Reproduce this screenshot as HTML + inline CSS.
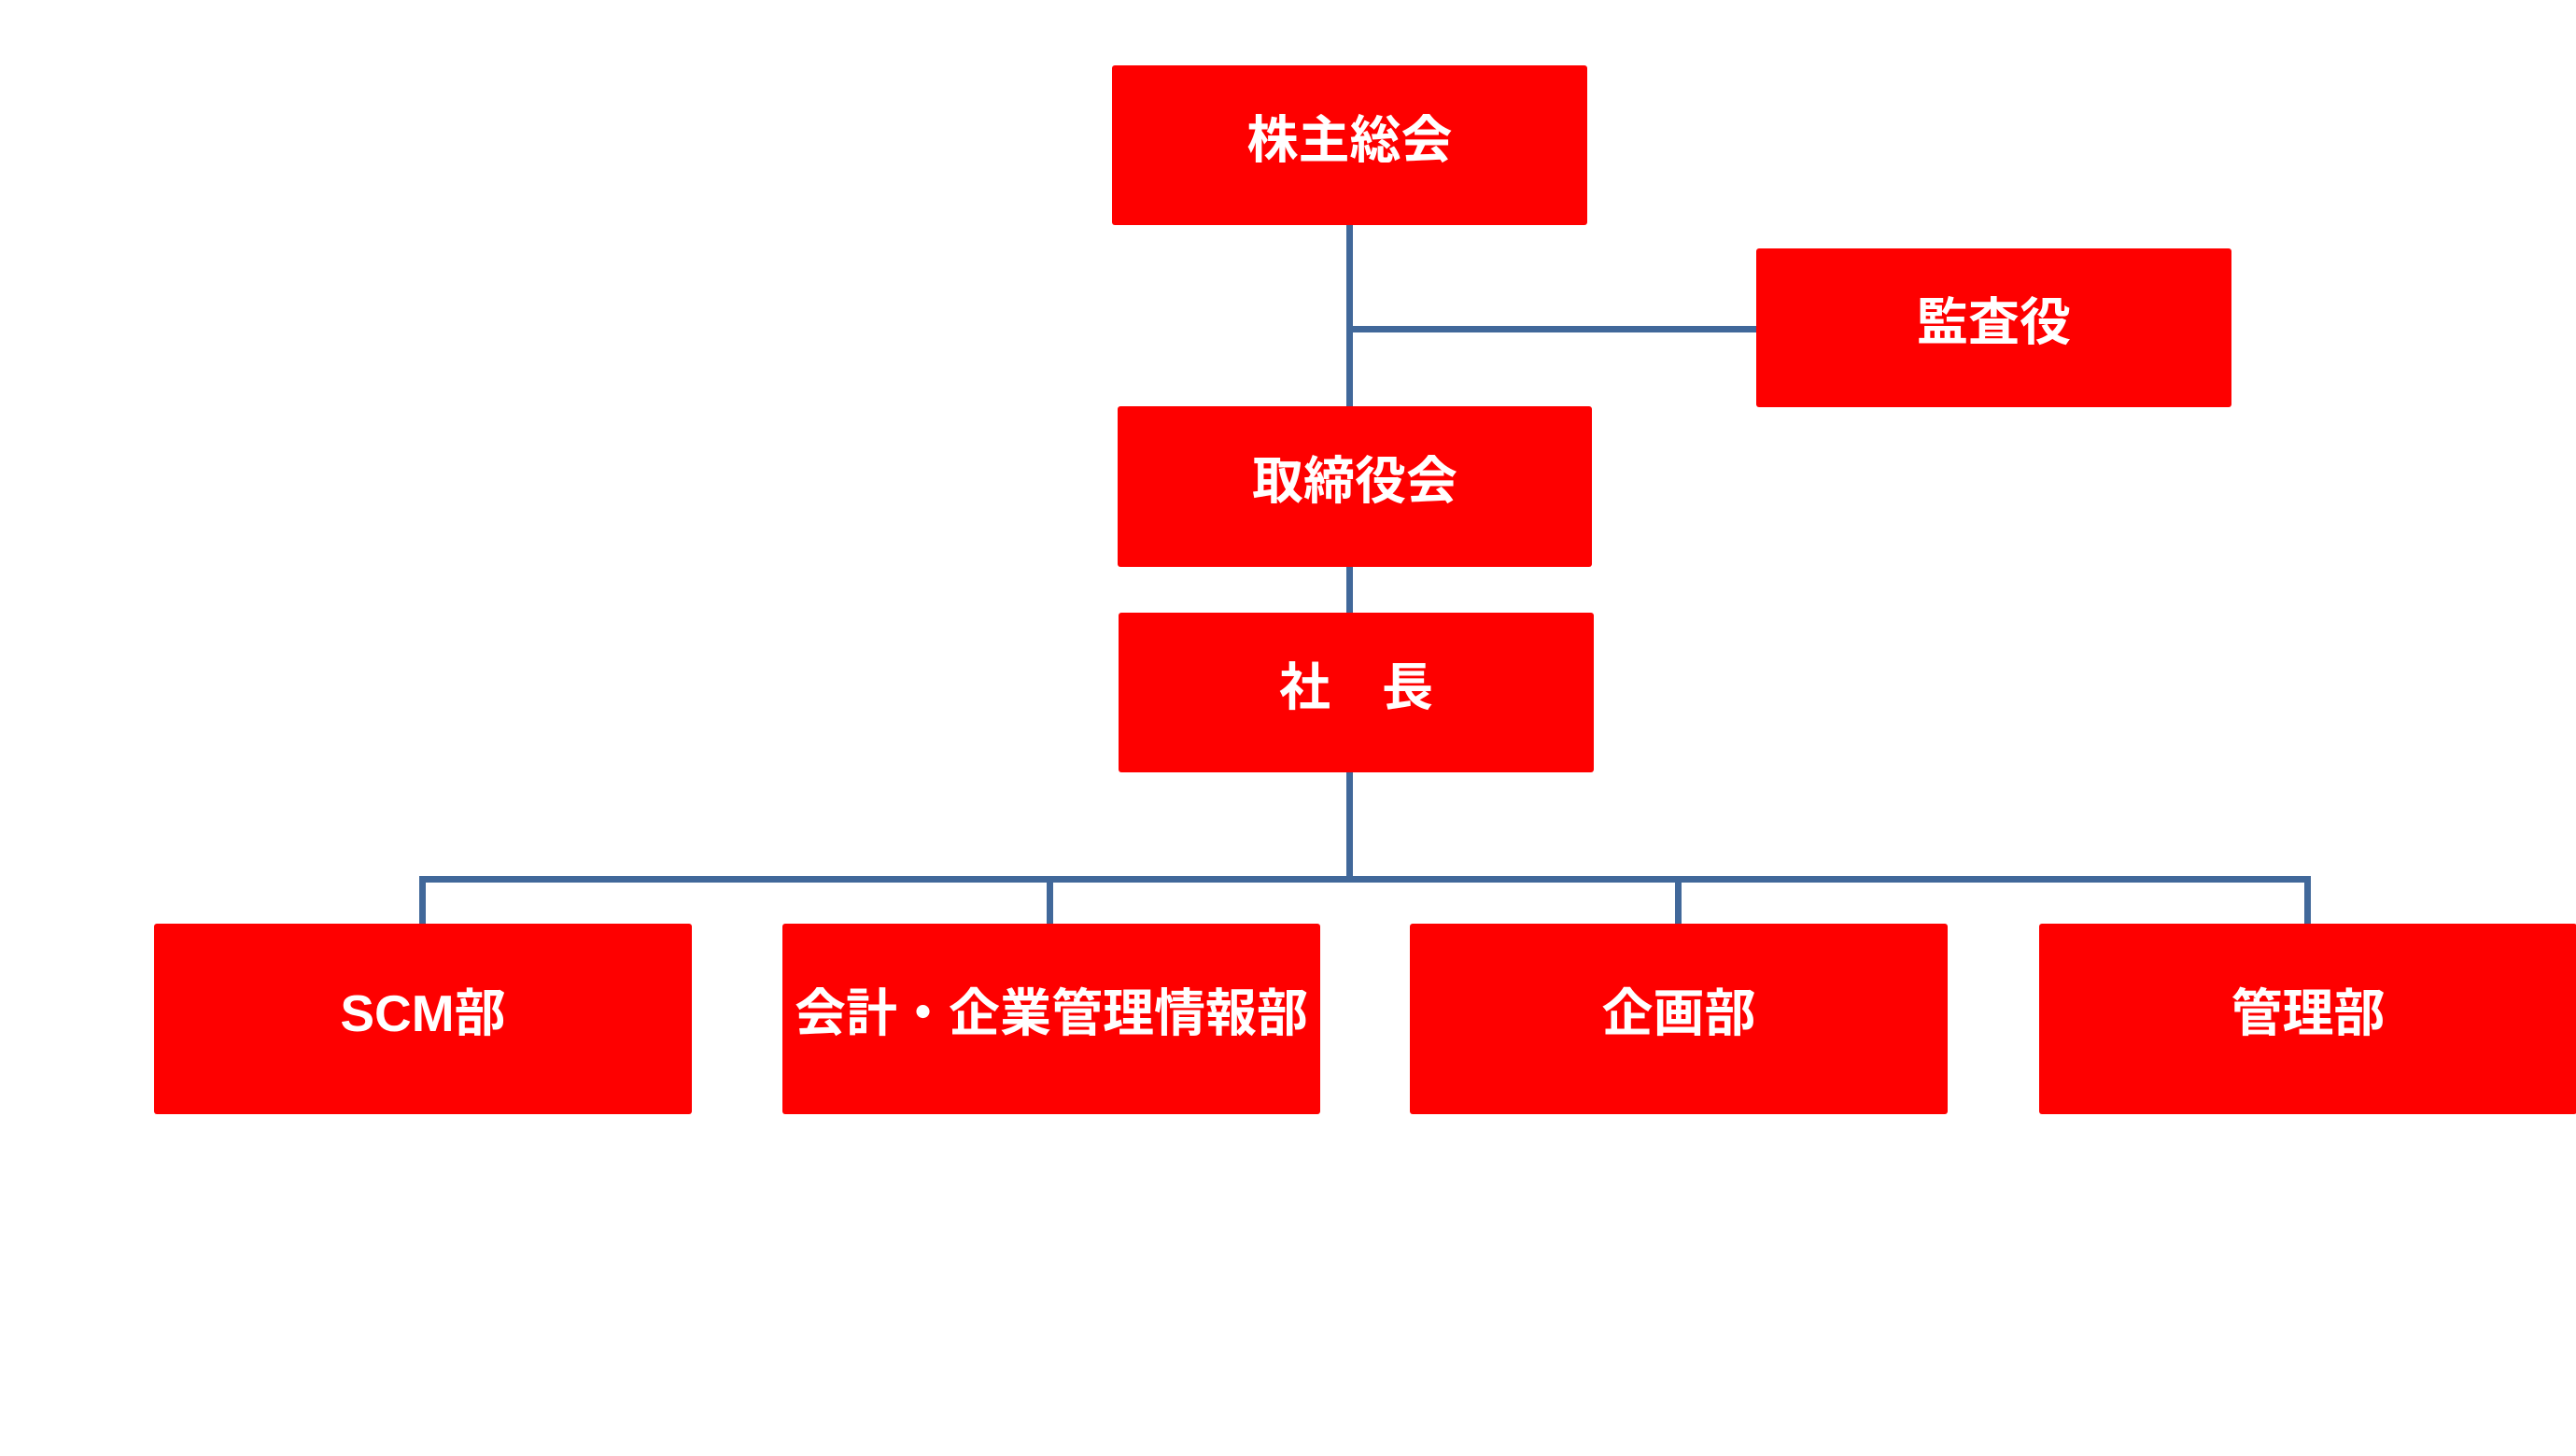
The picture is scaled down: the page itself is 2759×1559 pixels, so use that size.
<!DOCTYPE html>
<html><head><meta charset="utf-8"><style>
html,body{margin:0;padding:0;background:#fff;}
body{width:2759px;height:1559px;position:relative;overflow:hidden;font-family:"Liberation Sans","Noto Sans CJK JP",sans-serif;}
.b{position:absolute;background:#fe0000;color:#fff;font-weight:bold;font-size:55px;display:flex;align-items:center;justify-content:center;border-radius:3px;white-space:nowrap;padding-bottom:22px;box-sizing:border-box;}
.l{position:absolute;background:#41689a;}
</style></head><body>
<div class="l" style="left:1442px;top:238px;width:7px;height:706px"></div>
<div class="l" style="left:1442px;top:349px;width:442px;height:7px"></div>
<div class="l" style="left:449px;top:938px;width:2026px;height:7px"></div>
<div class="l" style="left:449px;top:938px;width:7px;height:54px"></div>
<div class="l" style="left:1121px;top:938px;width:7px;height:54px"></div>
<div class="l" style="left:1794px;top:938px;width:7px;height:54px"></div>
<div class="l" style="left:2468px;top:938px;width:7px;height:54px"></div>
<div class="b" style="left:1191px;top:70px;width:509px;height:171px">株主総会</div>
<div class="b" style="left:1881px;top:266px;width:509px;height:170px">監査役</div>
<div class="b" style="left:1197px;top:435px;width:508px;height:172px">取締役会</div>
<div class="b" style="left:1198px;top:656px;width:509px;height:171px">社　長</div>
<div class="b" style="left:165px;top:989px;width:576px;height:204px">SCM部</div>
<div class="b" style="left:838px;top:989px;width:576px;height:204px">会計・企業管理情報部</div>
<div class="b" style="left:1510px;top:989px;width:576px;height:204px">企画部</div>
<div class="b" style="left:2184px;top:989px;width:576px;height:204px">管理部</div>
</body></html>
